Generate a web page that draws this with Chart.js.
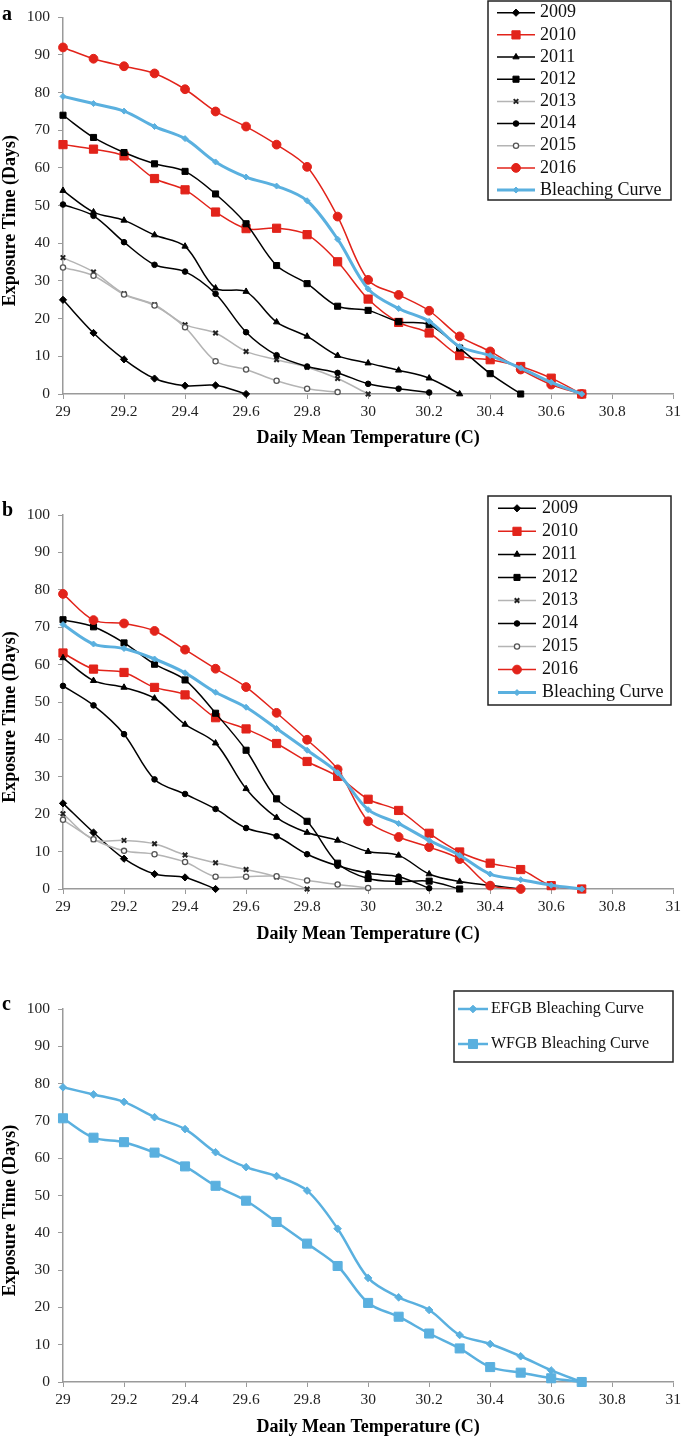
<!DOCTYPE html>
<html>
<head>
<script src="https://cdn.jsdelivr.net/npm/chart.js@4.4.0/dist/chart.umd.min.js"></script>
<style>
  body { margin: 0; background: #fff; overflow: hidden; }
  canvas.panel { position: absolute; left: 0; }
</style>
</head>
<body>
<canvas id="chartA" class="panel" width="685" height="470" style="top:0px"></canvas>
<canvas id="chartB" class="panel" width="685" height="480" style="top:478px"></canvas>
<canvas id="chartC" class="panel" width="685" height="476" style="top:962px"></canvas>
<script>
// daily mean temperature (C) for each point of every series
var temps = [29, 29.1, 29.2, 29.3, 29.4, 29.5, 29.6, 29.7, 29.8, 29.9, 30, 30.1, 30.2, 30.3, 30.4, 30.5, 30.6, 30.7];
var xTickLabels = ['29', '29.2', '29.4', '29.6', '29.8', '30', '30.2', '30.4', '30.6', '30.8', '31'];
var yTickLabels = ['0', '10', '20', '30', '40', '50', '60', '70', '80', '90', '100'];
var years = ['2009', '2010', '2011', '2012', '2013', '2014', '2015', '2016'];

// panel a - exposure time (days)
var a2009 = [25, 16.2, 9.2, 4.1, 2.2, 2.3, 0];
var a2010 = [66.2, 65, 63.2, 57.2, 54.2, 48.3, 43.9, 44, 42.3, 35.1, 25.2, 19, 16.2, 10.2, 9.1, 7.3, 4.2, 0];
var a2011 = [54, 48.3, 46.1, 42.2, 39.2, 28.1, 27.2, 19.1, 15.3, 10.2, 8.2, 6.3, 4.2, 0];
var a2012 = [74, 68.1, 64.1, 61.1, 59.1, 53.1, 45.2, 34.1, 29.3, 23.3, 22.2, 19.2, 18.4, 12.2, 5.4, 0];
var a2013 = [36.2, 32.4, 26.6, 23.7, 18.4, 16.2, 11.3, 9.1, 7.1, 4.1, 0];
var a2014 = [50.3, 47.3, 40.3, 34.3, 32.5, 26.6, 16.4, 10.3, 7.3, 5.6, 2.7, 1.4, 0.4];
var a2015 = [33.6, 31.4, 26.4, 23.5, 17.7, 8.7, 6.5, 3.5, 1.4, 0.5];
var a2016 = [92, 89, 87, 85.1, 80.9, 75, 71, 66.2, 60.3, 47.1, 30.3, 26.3, 22.1, 15.3, 11.3, 6.5, 2.5, 0];
var aCurve = [79, 77.1, 75.1, 71, 67.8, 61.6, 57.6, 55.2, 51.3, 41.1, 27.9, 22.7, 19.3, 12.6, 10.2, 6.9, 3.1, 0];

// panel b - exposure time (days)
var b2009 = [22.9, 15.1, 8.1, 4, 3.1, 0];
var b2010 = [63.1, 58.8, 57.9, 53.9, 51.9, 45.8, 42.8, 38.9, 34.1, 30.1, 24, 21, 14.9, 9.9, 6.9, 5.2, 0.9, 0];
var b2011 = [61.8, 55.7, 53.9, 51, 44, 39, 26.8, 19.1, 15.1, 13, 10, 9, 4, 2, 1, 0];
var b2012 = [72, 70.1, 65.8, 60.1, 55.9, 47, 37.1, 24.1, 18.1, 6.9, 2.8, 2, 2.1, 0];
var b2013 = [20.1, 13.2, 13, 12.1, 9.1, 7, 5.2, 3.2, 0];
var b2014 = [54.3, 49.1, 41.4, 29.3, 25.4, 21.4, 16.3, 14.1, 9.3, 6.2, 4.2, 3.3, 0.2];
var b2015 = [18.5, 13.3, 10.2, 9.3, 7.2, 3.3, 3.3, 3.4, 2.3, 1.2, 0.3];
var b2016 = [78.9, 71.9, 71, 69, 64, 58.9, 54, 47.1, 39.9, 32, 18.1, 13.9, 11.2, 8, 0.9, 0];
var bCurve = [70.7, 65.5, 64.3, 61.5, 57.8, 52.6, 48.6, 42.9, 37.1, 31.1, 21.2, 17.5, 13, 9, 4, 2.5, 1, 0];

var serif = '"Liberation Serif", "Times New Roman", serif';
Chart.defaults.font.family = serif;

var RED = '#e2231a', BLUE = '#5ab0df', GRAY = '#b4b4b4', AXIS = '#9a9a9a';

var yearStyles = [
  { borderColor: '#000', pointStyle: 'rectRot', pointRadius: 3.6, pointBackgroundColor: '#000', pointBorderColor: '#000' },
  { borderColor: RED, pointStyle: 'rect', pointRadius: 5.8, pointBackgroundColor: RED, pointBorderColor: RED },
  { borderColor: '#000', pointStyle: 'triangle', pointRadius: 3.6, pointBackgroundColor: '#000', pointBorderColor: '#000' },
  { borderColor: '#000', pointStyle: 'rect', pointRadius: 4.3, pointBackgroundColor: '#000', pointBorderColor: '#000' },
  { borderColor: GRAY, pointStyle: 'crossRot', pointRadius: 3.2, pointBackgroundColor: '#222', pointBorderColor: '#222', pointBorderWidth: 2 },
  { borderColor: '#000', pointStyle: 'circle', pointRadius: 2.8, pointBackgroundColor: '#000', pointBorderColor: '#000' },
  { borderColor: GRAY, pointStyle: 'circle', pointRadius: 2.6, pointBackgroundColor: '#fff', pointBorderColor: '#555', pointBorderWidth: 1.3 },
  { borderColor: RED, pointStyle: 'circle', pointRadius: 4.4, pointBackgroundColor: RED, pointBorderColor: RED }
];
var curveStyle = { borderColor: BLUE, borderWidth: 3, pointStyle: 'rectRot', pointRadius: 3, pointBackgroundColor: BLUE, pointBorderColor: BLUE };

function series(label, values, style, idx, total) {
  var ds = {
    label: label,
    data: values.map(function (v, i) { return { x: temps[i], y: v }; }),
    borderWidth: 1.5,
    pointBorderWidth: 1,
    tension: 0.33,
    clip: false,
    order: total - idx
  };
  return Object.assign(ds, style);
}

function yearSets(list, curve, curveLabel) {
  var out = list.map(function (vals, i) { return series(years[i], vals, yearStyles[i], i, list.length + 1); });
  out.push(series(curveLabel, curve, curveStyle, list.length, list.length + 1));
  return out;
}

// legend box, panel letter and rotated y title
var decor = {
  id: 'decor',
  afterDraw: function (chart, args, o) {
    var ctx = chart.ctx, ca = chart.chartArea;
    ctx.save();
    ctx.fillStyle = '#000';
    ctx.font = 'bold 20px ' + serif;
    ctx.textBaseline = 'middle';
    ctx.textAlign = 'left';
    ctx.fillText(o.letter, 2, o.letterY);
    ctx.translate(10, (ca.top + ca.bottom) / 2 + 15);
    ctx.rotate(-Math.PI / 2);
    ctx.textAlign = 'center';
    ctx.font = 'bold 18px ' + serif;
    ctx.fillText('Exposure Time (Days)', 0, 0);
    ctx.restore();

    var L = o.legend;
    ctx.save();
    ctx.fillStyle = '#fff';
    ctx.fillRect(L.x, L.y, L.w, L.h);
    ctx.strokeStyle = '#222';
    ctx.lineWidth = 1.5;
    ctx.strokeRect(L.x, L.y, L.w, L.h);
    chart.data.datasets.forEach(function (ds, i) {
      var y = L.first + i * L.gap;
      ctx.strokeStyle = ds.borderColor;
      ctx.lineWidth = ds.borderWidth;
      ctx.beginPath();
      ctx.moveTo(L.x0, y);
      ctx.lineTo(L.x1, y);
      ctx.stroke();
      ctx.fillStyle = ds.pointBackgroundColor;
      ctx.strokeStyle = ds.pointBorderColor;
      ctx.lineWidth = ds.pointBorderWidth;
      Chart.helpers.drawPoint(ctx, { pointStyle: ds.pointStyle, radius: ds.pointRadius, borderWidth: ds.pointBorderWidth, rotation: 0 }, (L.x0 + L.x1) / 2, y);
      ctx.fillStyle = '#111';
      ctx.font = L.font + 'px ' + serif;
      ctx.textBaseline = 'middle';
      ctx.textAlign = 'left';
      ctx.fillText(ds.label, L.tx, y);
    });
    ctx.restore();
  }
};

function makeChart(id, datasets, p) {
  return new Chart(document.getElementById(id), {
    type: 'line',
    data: { datasets: datasets },
    options: {
      responsive: false,
      animation: false,
      devicePixelRatio: 1,
      layout: { padding: { top: p.padTop, left: 0, right: 10, bottom: 0 } },
      plugins: {
        legend: { display: false },
        tooltip: { enabled: false },
        decor: p.decor
      },
      scales: {
        x: {
          type: 'linear', min: 29, max: 31,
          afterFit: function (s) { s.height = p.axisH; },
          afterBuildTicks: function (s) { s.ticks = xTickLabels.map(function (t) { return { value: parseFloat(t) }; }); },
          ticks: {
            color: '#222', padding: 4, maxRotation: 0, autoSkip: false,
            font: { size: 15.5 },
            callback: function (v, i) { return xTickLabels[i]; }
          },
          grid: { drawOnChartArea: false, tickLength: 5, color: AXIS },
          border: { color: AXIS, width: 1.5 },
          title: {
            display: true, text: 'Daily Mean Temperature (C)', color: '#000',
            font: { size: 18, weight: 'bold' },
            padding: { top: 0, bottom: p.titlePad }
          }
        },
        y: {
          min: 0, max: 100,
          afterFit: function (s) { s.width = 63; },
          afterBuildTicks: function (s) { s.ticks = yTickLabels.map(function (t) { return { value: parseFloat(t) }; }); },
          ticks: {
            color: '#222', padding: 8, font: { size: 15.5 },
            callback: function (v, i) { return yTickLabels[i]; }
          },
          grid: { drawOnChartArea: false, tickLength: 5, color: AXIS },
          border: { color: AXIS, width: 1.5 }
        }
      }
    },
    plugins: [decor]
  });
}

makeChart('chartA',
  yearSets([a2009, a2010, a2011, a2012, a2013, a2014, a2015, a2016], aCurve, 'Bleaching Curve'),
  { padTop: 17, axisH: 76, titlePad: 21,
    decor: { letter: 'a', letterY: 15,
      legend: { x: 488, y: 1, w: 183, h: 199, first: 12.7, gap: 22.17, x0: 497, x1: 535, tx: 540, font: 18 } } });

makeChart('chartB',
  yearSets([b2009, b2010, b2011, b2012, b2013, b2014, b2015, b2016], bCurve, 'Bleaching Curve'),
  { padTop: 37, axisH: 69, titlePad: 13,
    decor: { letter: 'b', letterY: 33,
      legend: { x: 488, y: 18, w: 183, h: 209, first: 30.3, gap: 23.04, x0: 498, x1: 536, tx: 542, font: 18 } } });

makeChart('chartC',
  [
    series('EFGB Bleaching Curve', aCurve, { borderColor: BLUE, borderWidth: 2.5, pointStyle: 'rectRot', pointRadius: 3.8, pointBackgroundColor: BLUE, pointBorderColor: BLUE }, 0, 2),
    series('WFGB Bleaching Curve', bCurve, { borderColor: BLUE, borderWidth: 2.5, pointStyle: 'rect', pointRadius: 6.4, pointBackgroundColor: BLUE, pointBorderColor: BLUE }, 1, 2)
  ],
  { padTop: 47, axisH: 56, titlePad: 0,
    decor: { letter: 'c', letterY: 43,
      legend: { x: 454, y: 29, w: 219, h: 71, first: 47, gap: 35, x0: 458, x1: 488, tx: 491, font: 16 } } });
</script>
</body>
</html>
